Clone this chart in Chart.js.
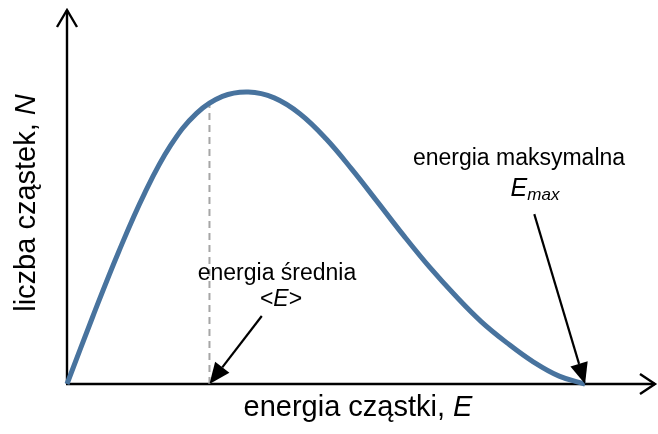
<!DOCTYPE html>
<html lang="pl">
<head>
<meta charset="utf-8">
<title>Widmo energii cząstek</title>
<script src="https://cdn.jsdelivr.net/npm/chart.js@4"></script>
<style>
  html, body { margin: 0; padding: 0; background: #ffffff; }
  #wrap { width: 658px; height: 434px; }
</style>
</head>
<body>
<div id="wrap"><canvas id="widmo" width="658" height="434"></canvas></div>
<script>
// energia cząstki (E / Emax) i liczba cząstek N (względem maksimum)
const energie = [0, 0.05, 0.1, 0.15, 0.2, 0.25, 0.3, 0.35, 0.4, 0.45, 0.5, 0.55, 0.6, 0.65, 0.7, 0.75, 0.8, 0.85, 0.9, 0.95, 1.0];
const liczby  = [0, 0.232, 0.454, 0.654, 0.817, 0.927, 0.985, 1.0, 0.98, 0.925, 0.84, 0.735, 0.622, 0.508, 0.4, 0.302, 0.213, 0.14, 0.076, 0.027, 0];

// energia średnia i wysokość krzywej w tym miejscu
const energiaSrednia = 0.275;
const liczbaPrzySredniej = 0.958;

// zakres osi (strzałki kończą się trochę za danymi)
const osE = [0, 1.135];
const osN = [0, 1.281];

// strzałki opisów: [E start, N start, E koniec, N koniec]
const strzalkaSrednia = [0.376, 0.233, energiaSrednia, 0];
const strzalkaMax = [0.902, 0.582, 1.0, 0];

const FONT = '"Liberation Sans", Arial, sans-serif';

// rysuje odcinek ze strzałką pełną na końcu
const drawArrow = (ctx, x1, y1, x2, y2) => {
  const ang = Math.atan2(y2 - y1, x2 - x1);
  const len = 21, half = 9;
  const bx = x2 - len * Math.cos(ang), by = y2 - len * Math.sin(ang);
  ctx.beginPath();
  ctx.moveTo(x1, y1);
  ctx.lineTo(bx, by);
  ctx.lineWidth = 2.2;
  ctx.strokeStyle = '#000';
  ctx.stroke();
  ctx.beginPath();
  ctx.moveTo(x2, y2);
  ctx.lineTo(bx + half * Math.sin(ang), by - half * Math.cos(ang));
  ctx.lineTo(bx - half * Math.sin(ang), by + half * Math.cos(ang));
  ctx.closePath();
  ctx.fillStyle = '#000';
  ctx.fill();
}

// osie ze strzałkami otwartymi
const axesPlugin = {
  id: 'osie',
  beforeDatasetsDraw(chart) {
    const { ctx, scales: { x, y } } = chart;
    const x0 = x.getPixelForValue(0), y0 = y.getPixelForValue(0);
    const xEnd = x.getPixelForValue(osE[1]), yEnd = y.getPixelForValue(osN[1]);
    ctx.save();
    ctx.strokeStyle = '#000';
    ctx.lineWidth = 2.4;
    ctx.beginPath();
    ctx.moveTo(x0, y0); ctx.lineTo(x0, yEnd);
    ctx.moveTo(x0 - 1, y0); ctx.lineTo(xEnd, y0);
    ctx.stroke();
    ctx.beginPath();
    ctx.moveTo(x0 - 10, yEnd + 17); ctx.lineTo(x0, yEnd); ctx.lineTo(x0 + 10, yEnd + 17);
    ctx.moveTo(xEnd - 15, y0 - 10); ctx.lineTo(xEnd, y0); ctx.lineTo(xEnd - 15, y0 + 10);
    ctx.stroke();
    ctx.restore();
  }
};

// tekst złożony z kawałków prostych i kursywy, wyśrodkowany w cx
const drawMixed = (ctx, parts, cx, baseY) => {
  let total = 0;
  parts.forEach(p => { ctx.font = p.font; p.w = ctx.measureText(p.t).width; total += p.w; });
  let sx = cx - total / 2;
  ctx.textAlign = 'left';
  parts.forEach(p => {
    ctx.font = p.font;
    ctx.fillText(p.t, sx, baseY + (p.dy || 0));
    sx += p.w;
  });
}

// podpisy i strzałki opisów
const labelsPlugin = {
  id: 'opisy',
  afterDraw(chart) {
    const { ctx, scales: { x, y } } = chart;
    ctx.save();
    ctx.fillStyle = '#000';
    ctx.textBaseline = 'alphabetic';

    // opis osi X
    drawMixed(ctx, [
      { t: 'energia cząstki, ', font: '29px ' + FONT },
      { t: 'E', font: 'italic 29px ' + FONT }
    ], 358, 416);

    // opis osi Y (obrócony)
    ctx.save();
    ctx.translate(35, 203);
    ctx.rotate(-Math.PI / 2);
    drawMixed(ctx, [
      { t: 'liczba cząstek, ', font: '29px ' + FONT },
      { t: 'N', font: 'italic 29px ' + FONT }
    ], 0, 0);
    ctx.restore();

    // energia średnia <E>
    ctx.textAlign = 'center';
    ctx.font = '23px ' + FONT;
    ctx.fillText('energia średnia', 277, 280);
    drawMixed(ctx, [
      { t: '<', font: '23px ' + FONT },
      { t: 'E', font: 'italic 23px ' + FONT },
      { t: '>', font: '23px ' + FONT }
    ], 281, 306);

    // energia maksymalna Emax
    ctx.textAlign = 'center';
    ctx.font = '23px ' + FONT;
    ctx.fillText('energia maksymalna', 519, 165);
    drawMixed(ctx, [
      { t: 'E', font: 'italic 25px ' + FONT },
      { t: 'max', font: 'italic 17px ' + FONT, dy: 4 }
    ], 535, 196);

    // strzałki
    [strzalkaSrednia, strzalkaMax].forEach(a => {
      drawArrow(ctx,
        x.getPixelForValue(a[0]), y.getPixelForValue(a[1]),
        x.getPixelForValue(a[2]), y.getPixelForValue(a[3]));
    });
    ctx.restore();
  }
};

const punkty = energie.map((e, i) => ({ x: e, y: liczby[i] }));

new Chart(document.getElementById('widmo').getContext('2d'), {
  type: 'scatter',
  data: {
    datasets: [{
      label: 'N(E)',
      data: punkty,
      showLine: true,
      borderColor: '#48739e',
      borderWidth: 5,
      pointRadius: 0,
      tension: 0.4,
      clip: false,
      order: 1
    }, {
      label: '<E>',
      data: [{ x: energiaSrednia, y: 0 }, { x: energiaSrednia, y: liczbaPrzySredniej }],
      showLine: true,
      borderColor: '#a6a6a6',
      borderWidth: 2,
      borderDash: [7, 5],
      pointRadius: 0,
      clip: false,
      order: 2
    }]
  },
  options: {
    responsive: false,
    animation: false,
    layout: { padding: { left: 67, right: 3, top: 10, bottom: 50 } },
    plugins: {
      legend: { display: false },
      tooltip: { enabled: false }
    },
    scales: {
      x: { type: 'linear', display: false, min: osE[0], max: osE[1] },
      y: { type: 'linear', display: false, min: osN[0], max: osN[1] }
    }
  },
  plugins: [axesPlugin, labelsPlugin]
});
</script>
</body>
</html>
